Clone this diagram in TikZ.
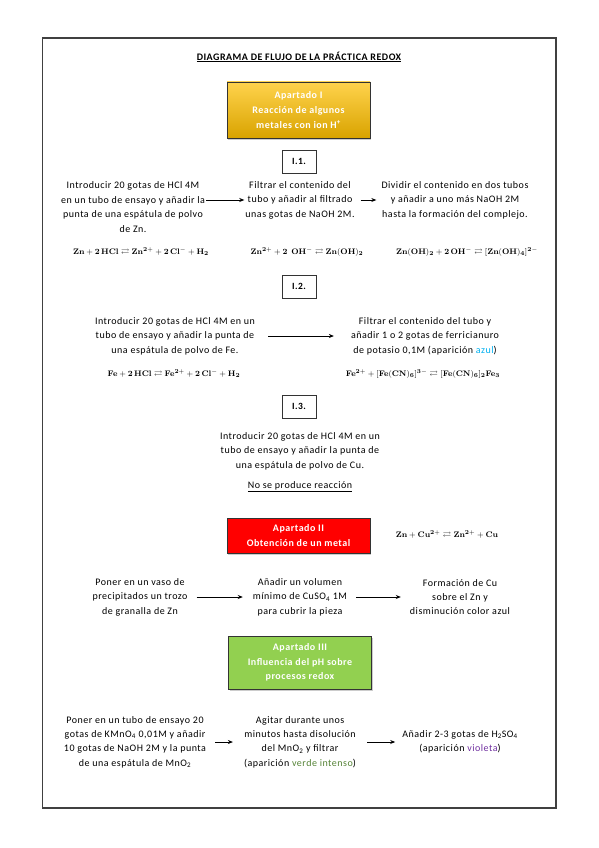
\documentclass[tikz,border=0pt]{standalone}
\usepackage[no-math]{fontspec}
\setmainfont[LetterSpace=5]{Carlito}
\usepackage{amssymb}
\usetikzlibrary{arrows.meta,shadows}
\definecolor{oro}{HTML}{FFC000}
\definecolor{rojo}{HTML}{FF0000}
\definecolor{verdeap}{HTML}{92D050}
\definecolor{azul}{HTML}{00B0F0}
\definecolor{verde}{HTML}{548235}
\definecolor{violeta}{HTML}{7030A0}
\newcommand{\eqq}{\rightleftarrows}

\begin{document}
\begin{tikzpicture}[x=1pt, y=-1pt,
  font=\fontsize{10}{14.4}\selectfont,
  txt/.style={align=center, inner sep=1pt},
  eqn/.style={inner sep=1pt, font=\fontsize{8.3}{10}\selectfont},
  apt/.style={draw=black!80, line width=0.8pt, align=center, text=white,
              font=\fontsize{10}{14.6}\selectfont\bfseries,
              minimum width=143pt, inner sep=2pt,
              drop shadow={shadow xshift=1pt, shadow yshift=-1.5pt, opacity=0.4}},
  sub/.style={draw=black!80, line width=0.7pt, font=\fontsize{9.5}{11}\selectfont\bfseries,
              minimum width=34pt, minimum height=23pt},
  arr/.style={-{Stealth[length=5pt, width=4pt]}, line width=0.7pt},
]
\useasboundingbox (0,0) rectangle (599,848);
\draw[line width=1.4pt, draw=black!75] (42.5,38) rectangle (556,808);

\node[txt, font=\fontsize{10}{11}\selectfont\bfseries] (title) at (299,57)
  {\underline{DIAGRAMA DE FLUJO DE LA PRÁCTICA REDOX}};

% Apartado I
\node[apt, minimum height=56pt, top color=oro!70, bottom color=oro!85!black] (apI) at (298.5,110)
  {Apartado I\\Reacción de algunos\\metales con ion H\textsuperscript{+}};

\node[sub] (s11) at (299,161.5) {I.1.};
\node[txt] (t11a) at (133,207) {Introducir 20 gotas de HCl 4M\\en un tubo de ensayo y añadir la\\punta de una espátula de polvo\\de Zn.};
\node[txt] (t11b) at (300,200) {Filtrar el contenido del\\tubo y añadir al filtrado\\unas gotas de NaOH 2M.};
\node[txt] (t11c) at (455,200) {Dividir el contenido en dos tubos\\y añadir a uno más NaOH 2M\\hasta la formación del complejo.};
\draw[arr] (t11a.east |- t11b) -- (t11b.west);
\draw[arr] ([xshift=5pt]t11b.east) -- ([xshift=-4pt]t11c.west);
\node[eqn] (e11a) at (141,252) {$\mathbf{Zn + 2\,HCl \eqq Zn^{2+} + 2\,Cl^{-} + H_2}$};
\node[eqn] (e11b) at (307,252) {$\mathbf{Zn^{2+} + 2\;\,OH^{-} \eqq Zn(OH)_2}$};
\node[eqn] (e11c) at (467,252) {$\mathbf{Zn(OH)_2 + 2\,OH^{-} \eqq [Zn(OH)_4]^{2-}}$};

\node[sub] (s12) at (299,286.5) {I.2.};
\node[txt] (t12a) at (175,336) {Introducir 20 gotas de HCl 4M en un\\tubo de ensayo y añadir la punta de\\una espátula de polvo de Fe.};
\node[txt] (t12b) at (425,336) {Filtrar el contenido del tubo y\\añadir 1 o 2 gotas de ferricianuro\\de potasio 0,1M (aparición \textcolor{azul}{azul})};
\draw[arr] ([xshift=12pt]t12a.east) -- ([xshift=-16pt]t12b.west);
\node[eqn] (e12a) at (174,374) {$\mathbf{Fe + 2\,HCl \eqq Fe^{2+} + 2\,Cl^{-} + H_2}$};
\node[eqn] (e12b) at (423,374) {$\mathbf{Fe^{2+} + [Fe(CN)_6]^{3-} \eqq [Fe(CN)_6]_2Fe_3}$};

\node[sub] (s13) at (299,406.5) {I.3.};
\node[txt] (t13) at (300,451) {Introducir 20 gotas de HCl 4M en un\\tubo de ensayo y añadir la punta de\\una espátula de polvo de Cu.};
\node[txt] (t13n) at (300,487) {\underline{No se produce reacción}};

% Apartado II
\node[apt, minimum height=35pt, fill=rojo] (apII) at (298.5,535.5)
  {Apartado II\\Obtención de un metal};
\node[eqn] (eII) at (447,535) {$\mathbf{Zn + Cu^{2+} \eqq Zn^{2+} + Cu}$};

\node[txt] (t2a) at (140,597) {Poner en un vaso de\\precipitados un trozo\\de granalla de Zn};
\node[txt] (t2b) at (300,597) {Añadir un volumen\\mínimo de CuSO\textsubscript{4} 1M\\para cubrir la pieza};
\node[txt] (t2c) at (460,597) {Formación de Cu\\sobre el Zn y\\disminución color azul};
\draw[arr] ([xshift=8pt]t2a.east) -- ([xshift=-9pt]t2b.west);
\draw[arr] ([xshift=8pt]t2b.east) -- ([xshift=-8pt]t2c.west);

% Apartado III
\node[apt, minimum height=53pt, fill=verdeap] (apIII) at (300,662.5)
  {Apartado III\\Influencia del pH sobre\\procesos redox};

\node[txt] (t3a) at (135,742) {Poner en un tubo de ensayo 20\\gotas de KMnO\textsubscript{4} 0,01M y añadir\\10 gotas de NaOH 2M y la punta\\de una espátula de MnO\textsubscript{2}};
\node[txt] (t3b) at (300,742) {Agitar durante unos\\minutos hasta disolución\\del MnO\textsubscript{2} y filtrar\\(aparición \textcolor{verde}{verde intenso})};
\node[txt] (t3c) at (460,742) {Añadir 2-3 gotas de H\textsubscript{2}SO\textsubscript{4}\\(aparición \textcolor{violeta}{violeta})};
\draw[arr] ([xshift=8pt]t3a.east) -- ([xshift=-10pt]t3b.west);
\draw[arr] ([xshift=10pt]t3b.east) -- ([xshift=-6pt]t3c.west);
\end{tikzpicture}
\end{document}
